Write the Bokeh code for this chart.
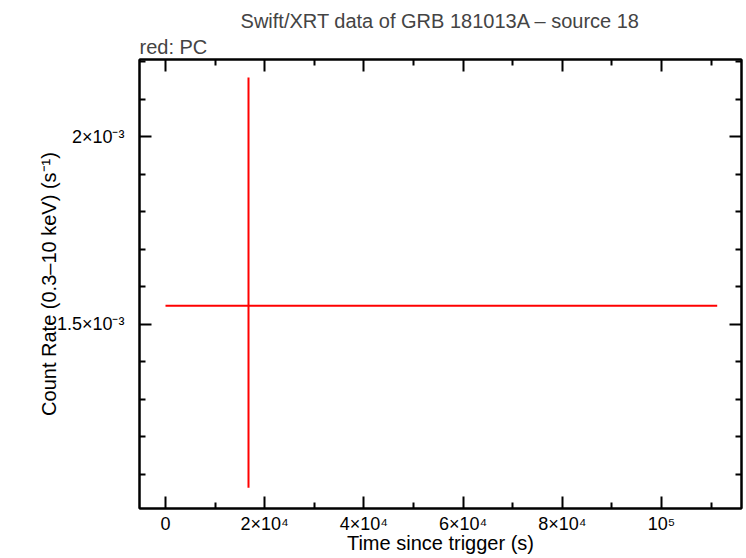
from bokeh.plotting import figure
from bokeh.models import FixedTicker, LinearAxis, Range1d, Title, ColumnDataSource
from bokeh.embed import file_html
from bokeh.resources import INLINE

# data (single PC point with error bars)
t_mid = [16734.0]
t_lo = [0.0]
t_hi = [111230.0]
rate = [1.549e-3]
rate_lo = [1.0634e-3]
rate_hi = [2.158e-3]

x_major = [0, 20000, 40000, 60000, 80000, 100000]
x_minor = [10000, 30000, 50000, 70000, 90000, 110000]
x_labels = {0: "0", 20000: "2×10⁴", 40000: "4×10⁴", 60000: "6×10⁴",
            80000: "8×10⁴", 100000: "10⁵"}
y_major = [1.5e-3, 2.0e-3]
y_minor = [1.1e-3, 1.2e-3, 1.3e-3, 1.4e-3, 1.6e-3, 1.7e-3, 1.8e-3, 1.9e-3, 2.1e-3, 2.2e-3]
y_labels = {1.5e-3: "1.5×10⁻³", 2.0e-3: "2×10⁻³"}

FONT = "Liberation Sans"

p = figure(width=746, height=558, output_backend="svg", toolbar_location=None,
           x_range=Range1d(-5242, 116129), y_range=Range1d(1.008e-3, 2.206e-3),
           min_border_left=139, min_border_right=5, min_border_top=59, min_border_bottom=50,
           x_axis_location=None, y_axis_location=None)
p.grid.visible = False
p.outline_line_color = "black"
p.outline_line_width = 2
p.background_fill_color = "white"
p.border_fill_color = "white"

src = ColumnDataSource(dict(t=t_mid, tlo=t_lo, thi=t_hi, r=rate, rlo=rate_lo, rhi=rate_hi))
p.segment(x0="tlo", x1="thi", y0="r", y1="r", source=src, line_color="red", line_width=2)
p.segment(x0="t", x1="t", y0="rlo", y1="rhi", source=src, line_color="red", line_width=2)

def style(ax, labels=True):
    ax.axis_line_width = 2
    ax.major_tick_line_width = 2
    ax.minor_tick_line_width = 2
    ax.major_tick_in = 12
    ax.major_tick_out = 0
    ax.minor_tick_in = 6
    ax.minor_tick_out = 0
    ax.major_label_text_font = FONT
    ax.major_label_text_font_size = "18px"
    ax.major_label_text_color = "black"
    ax.axis_label_text_font = FONT
    ax.axis_label_text_font_size = "20px"
    ax.axis_label_text_font_style = "normal"
    ax.axis_label_text_color = "black"
    if not labels:
        ax.major_label_text_font_size = "0px"
        ax.major_label_text_alpha = 0
        ax.major_label_standoff = 0

xb = LinearAxis(ticker=FixedTicker(ticks=x_major, minor_ticks=x_minor),
                axis_label="Time since trigger (s)")
xb.major_label_overrides = x_labels
style(xb)
xb.major_label_standoff = 5
xb.axis_label_standoff = -5
p.add_layout(xb, "below")

xt = LinearAxis(ticker=FixedTicker(ticks=x_major, minor_ticks=x_minor))
style(xt, labels=False)
p.add_layout(xt, "above")

yl = LinearAxis(ticker=FixedTicker(ticks=y_major, minor_ticks=y_minor),
                axis_label="Count Rate (0.3–10 keV) (s⁻¹)")
yl.major_label_overrides = y_labels
style(yl)
yl.major_label_standoff = 15
yl.axis_label_standoff = -6
p.add_layout(yl, "left")

yr = LinearAxis(ticker=FixedTicker(ticks=y_major, minor_ticks=y_minor))
style(yr, labels=False)
p.add_layout(yr, "right")

sub = Title(text="red: PC", align="left", text_font=FONT, text_font_size="20px",
            text_font_style="normal", offset=0, standoff=4)
p.add_layout(sub, "above")
main = Title(text="Swift/XRT data of GRB 181013A – source 18", align="center",
             text_font=FONT, text_font_size="20px", text_font_style="normal", standoff=0)
p.add_layout(main, "above")

open("out.html", "w").write(file_html(p, INLINE))
